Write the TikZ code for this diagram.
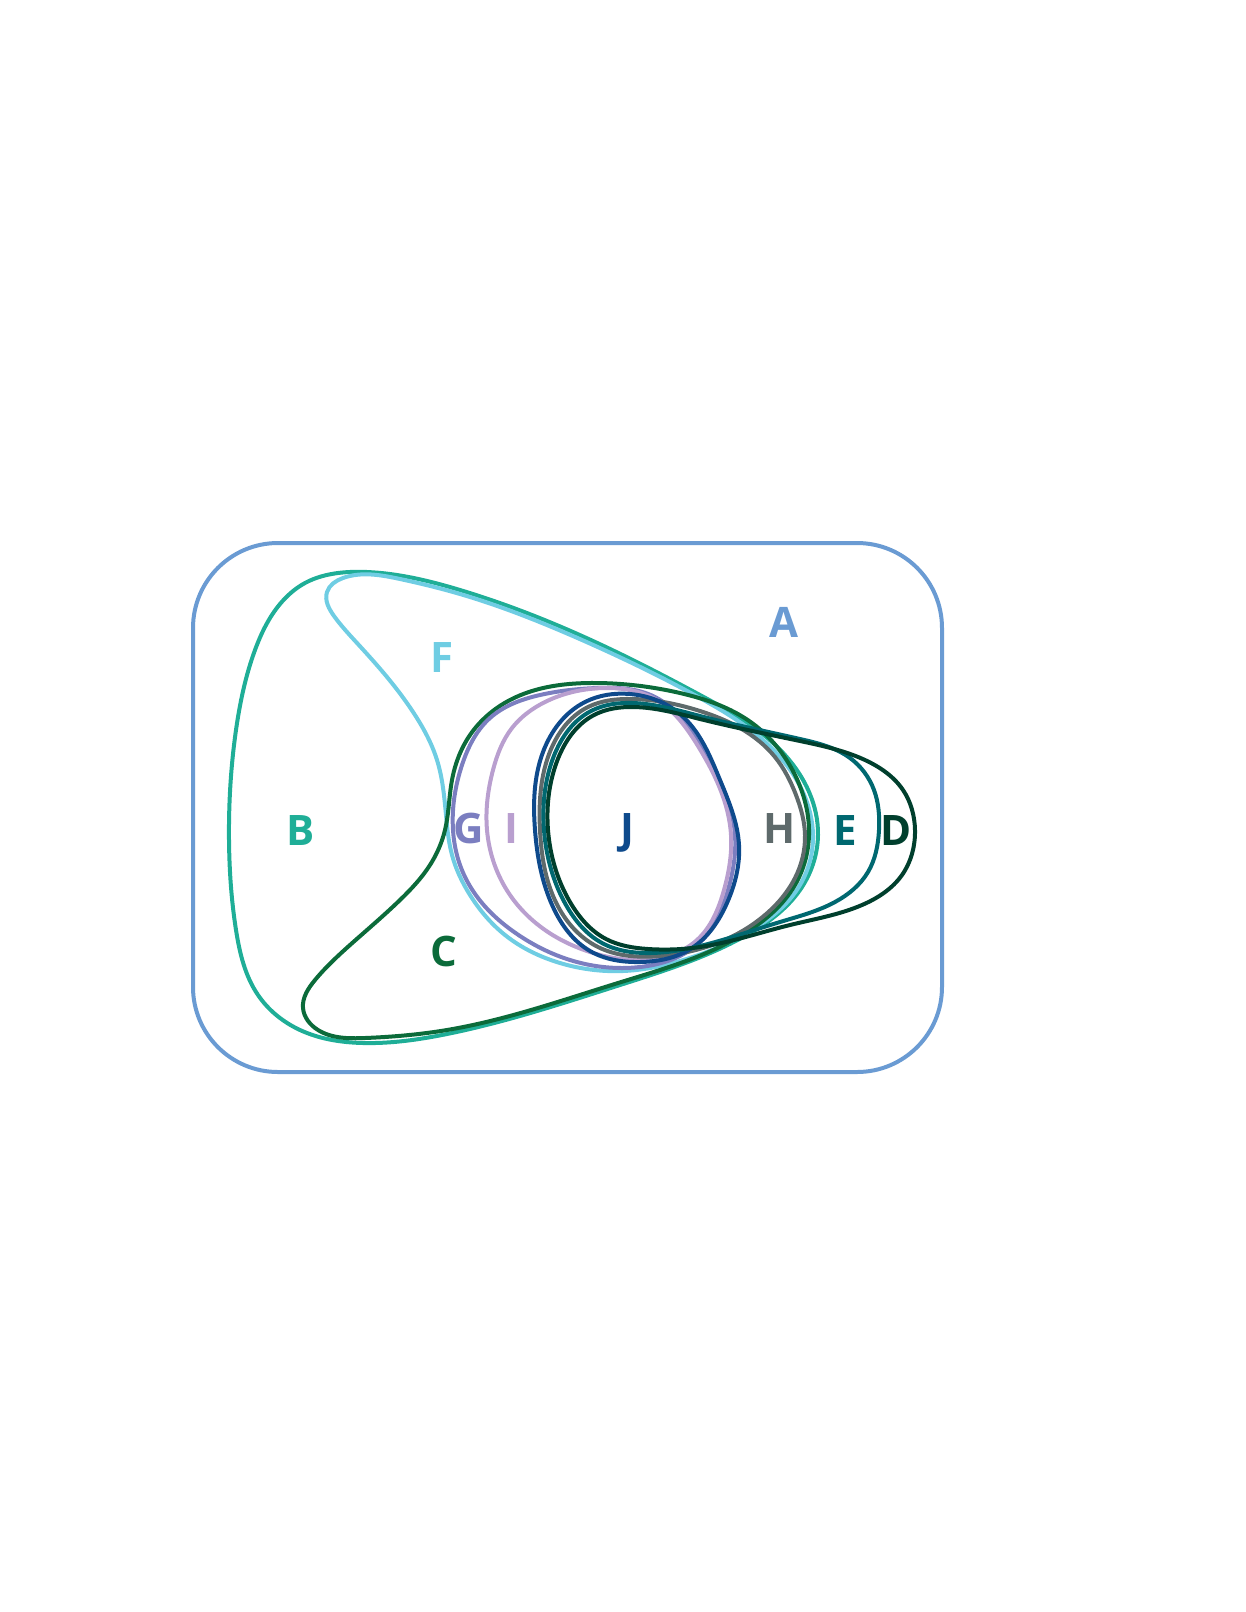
\documentclass[tikz,border=0pt]{standalone}
\usepackage{fontspec}
\setmainfont{Open Sans}
\usetikzlibrary{hobby}
\definecolor{colA}{HTML}{6A9BD3}
\definecolor{colB}{HTML}{1FAE97}
\definecolor{colC}{HTML}{0B6B3A}
\definecolor{colD}{HTML}{003F2D}
\definecolor{colE}{HTML}{006870}
\definecolor{colF}{HTML}{6FCDE3}
\definecolor{colG}{HTML}{7B7EC0}
\definecolor{colH}{HTML}{5E6A6B}
\definecolor{colI}{HTML}{B99FCF}
\definecolor{colJ}{HTML}{0E4A8C}
\begin{document}
\begin{tikzpicture}[x=0.5pt,y=-0.5pt,
  curve/.style={line width=2pt, line join=round, use Hobby shortcut, closed=true},
  lab/.style={font=\bfseries\fontsize{21}{21}\selectfont, anchor=base, inner sep=0pt}]
\useasboundingbox (0,0) rectangle (1246,1612);
% A
\draw[line width=2pt, colA, rounded corners=42.5pt] (193,543) rectangle (942,1072);
% B
\draw[curve, colB] (229,840) .. (236,730) .. (255,650) .. (280,604) .. (305,583)
 .. (338,573) .. (367,572) .. (460,590) .. (582,636) .. (700,695) .. (785,755)
 .. (818,835) .. (800,890) .. (745,936) .. (620,985) .. (447,1034) .. (363,1043)
 .. (300,1030) .. (258,995) .. (236,930);
% F
\draw[curve, colF] (446,815) .. (437,760) .. (415,715) .. (387,677) .. (357,643)
 .. (334,616) .. (327,592) .. (343,578) .. (400,579) .. (460,594) .. (582,640)
 .. (700,698) .. (780,757) .. (813,835) .. (800,885) .. (745,934) .. (680,961)
 .. (623,971) .. (560,963) .. (505,935) .. (470,895) .. (452,855);
% C
\draw[curve, colC] (445,830) .. (452,780) .. (470,735) .. (510,700) .. (597,683)
 .. (680,693) .. (752,723) .. (795,775) .. (809,835) .. (795,885) .. (742,935)
 .. (618,983) .. (447,1030) .. (365,1038) .. (318,1030) .. (303,1008) .. (315,980)
 .. (350,945) .. (400,900) .. (430,865);
% G
\draw[curve, colG] (453,830) .. (462,765) .. (490,718) .. (540,695) .. (597,688)
 .. (655,697) .. (700,745) .. (735,835) .. (728,890) .. (700,942) .. (640,967)
 .. (570,960) .. (517,934) .. (478,898) .. (460,865);
% I
\draw[curve, colI] (487,830) .. (493,770) .. (512,728) .. (545,702) .. (605,688)
 .. (655,699) .. (698,746) .. (731,835) .. (724,890) .. (697,940) .. (640,960)
 .. (590,952) .. (545,930) .. (510,895);
% H
\draw[curve, colH] (540,830) .. (548,757) .. (588,707) .. (632,699) .. (700,711)
 .. (740,728) .. (775,757) .. (796,795) .. (805,835) .. (795,878) .. (765,915)
 .. (720,942) .. (660,956) .. (598,947) .. (560,910);
% J
\draw[curve, colJ] (535,830) .. (543,752) .. (585,702) .. (630,694) .. (680,714)
 .. (720,780) .. (739,845) .. (727,903) .. (692,948) .. (640,962) .. (590,951)
 .. (553,907);
% E
\draw[curve, colE] (544,830) .. (552,761) .. (591,711) .. (633,703) .. (700,716)
 .. (800,739) .. (850,758) .. (874,790) .. (879,830) .. (868,872) .. (835,902)
 .. (780,922) .. (700,946) .. (650,953) .. (602,943) .. (566,905);
% D
\draw[curve, colD] (548,830) .. (556,764) .. (594,715) .. (634,707) .. (700,719)
 .. (800,741) .. (865,760) .. (903,790) .. (915,830) .. (902,875) .. (862,905)
 .. (790,925) .. (700,947) .. (648,949) .. (606,939) .. (570,902);
% labels
\node[lab, text=colA] (labA) at (784,637) {A};
\node[lab, text=colB] (labB) at (301,845) {B};
\node[lab, text=colC] (labC) at (444,966) {C};
\node[lab, text=colD] (labD) at (896,845) {D};
\node[lab, text=colE] (labE) at (845,845) {E};
\node[lab, text=colF] (labF) at (442,672) {F};
\node[lab, text=colG] (labG) at (469,843) {G};
\node[lab, text=colH] (labH) at (780,843) {H};
\node[lab, text=colI] (labI) at (511,843) {I};
\node[lab, text=colJ] (labJ) at (627,843) {J};
\end{tikzpicture}
\end{document}
